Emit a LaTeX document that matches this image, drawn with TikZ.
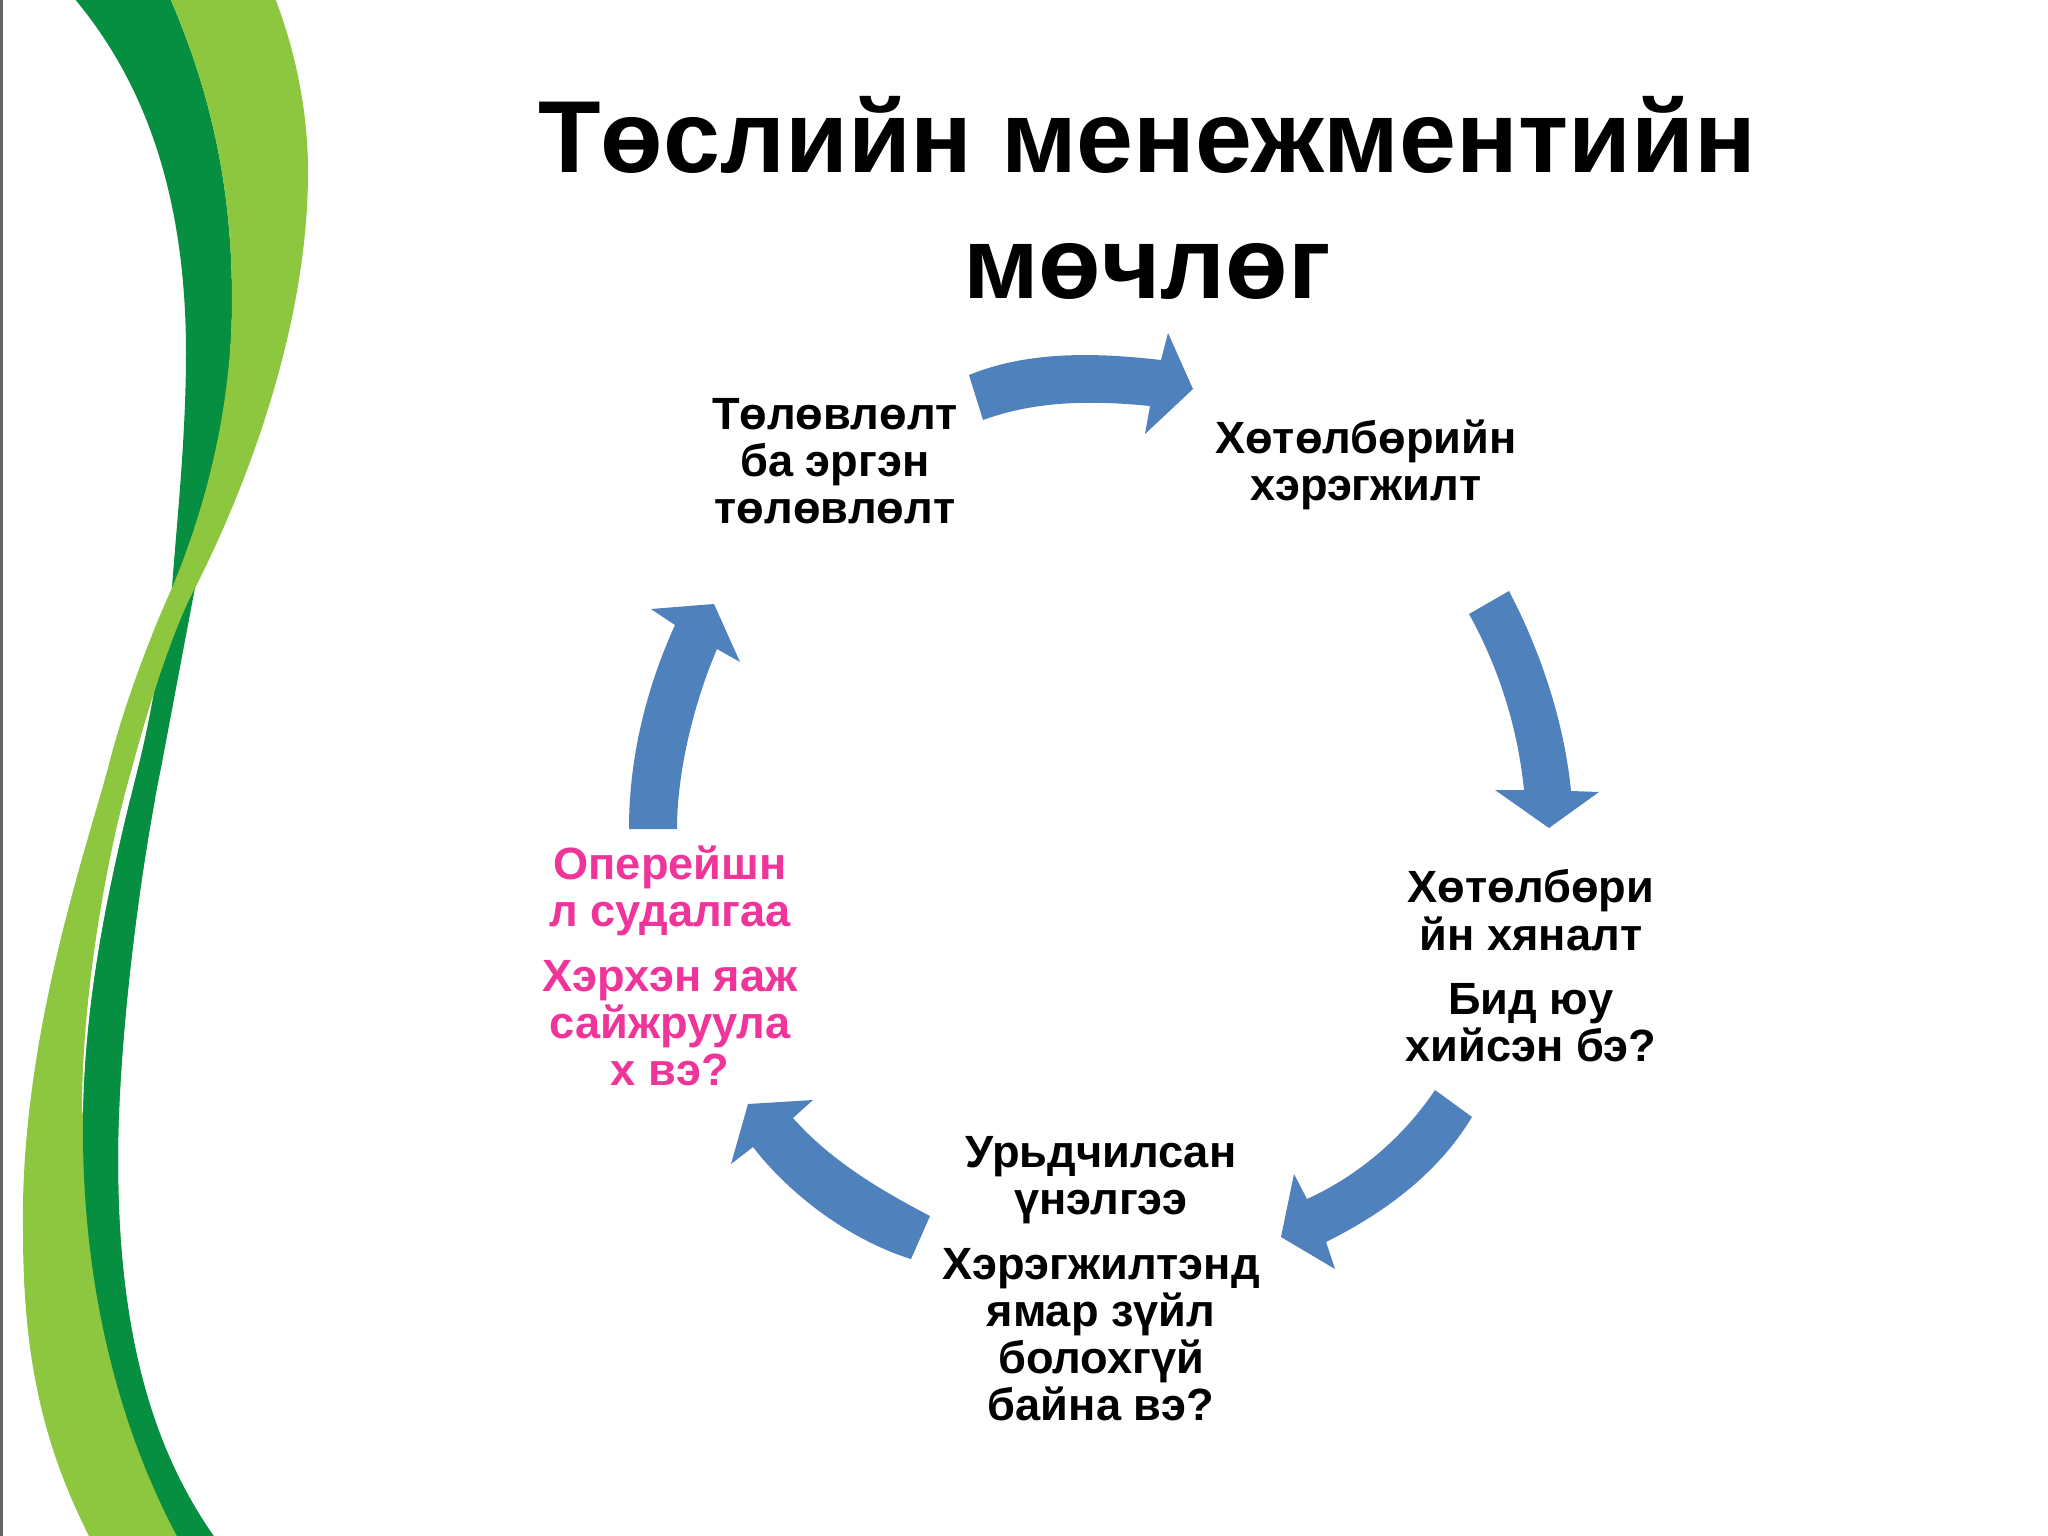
\documentclass[tikz,border=0pt]{standalone}
\usepackage{fontspec}
\setmainfont{Liberation Sans}
\usepackage{xcolor}
\definecolor{arrowblue}{HTML}{4F81BD}
\definecolor{bandlight}{HTML}{8DC63F}
\definecolor{banddark}{HTML}{078F41}
\definecolor{opink}{HTML}{F0359A}
\newcommand{\darkband}{(74,-2) .. controls (130,65) and (186,170) .. (186,353) .. controls (186,440) and (176,530) .. (172,588) .. controls (160,650) and (155,700) .. (138,768) .. controls (110,880) and (83,1000) .. (83,1131) .. controls (83,1290) and (120,1430) .. (178,1538) -- (215,1538) .. controls (160,1460) and (118,1350) .. (118,1160) .. controls (118,1040) and (140,870) .. (161,768) .. controls (172,710) and (185,640) .. (195,588) .. controls (215,490) and (232,390) .. (232,300) .. controls (232,190) and (212,95) .. (170,-2) -- cycle}
\begin{document}
\begin{tikzpicture}[x=0.01cm, y=-0.01cm,
	every node/.style={font=\fontsize{12.85}{13.4}\selectfont\bfseries, align=center},
	block/.style={fill=arrowblue}]
		\clip (0,0) rectangle (2048,1536);
		\fill[white] (0,0) rectangle (2048,1536);
		\fill[black!60] (0,0) rectangle (3,1536);
		
		\fill[banddark] \darkband;
		\fill[bandlight] (170,-2) .. controls (212,95) and (232,190) .. (232,300) .. controls (232,390) and (213,490) .. (172,588) .. controls (155,625) and (125,700) .. (108,768) .. controls (86,850) and (20,1040) .. (23,1230) .. controls (23,1350) and (40,1440) .. (90,1538) -- (178,1538) -- (110,1300) -- (90,1150) -- (82,1110) .. controls (82,1000) and (105,860) .. (132,768) .. controls (150,700) and (175,625) .. (195,588) .. controls (235,510) and (308,340) .. (308,172) .. controls (308,110) and (295,50) .. (275,-2) -- cycle;
		\begin{scope}
			\clip (0,800) rectangle (400,1536);
			\fill[banddark] \darkband;
		\end{scope}
		
		\node[font=\fontsize{29.1}{36}\selectfont\bfseries] (title) at (1147,198) {Төслийн менежментийн\\мөчлөг};
		
		\node (plan) at (835,461) {Төлөвлөлт\\ба эргэн\\төлөвлөлт};
		\node (impl) at (1366,465) {Хөтөлбөрийн\\хэрэгжилт};
		\node (ctrl) at (1531,966) {Хөтөлбөри\\йн хяналт\\[5pt]Бид юу\\хийсэн бэ?};
		\node (eval) at (1101,1279) {Урьдчилсан\\үнэлгээ\\[5pt]Хэрэгжилтэнд\\ямар зүйл\\болохгүй\\байна вэ?};
		\node[text=opink] (oper) at (670,966) {Оперейшн\\л судалгаа\\[5pt]Хэрхэн яаж\\сайжруула\\х вэ?};
		
		\fill[block] (969,375) .. controls (1030,350) and (1100,353) .. (1161,360) -- (1168,333) -- (1193,389) -- (1145,434) -- (1150,406) .. controls (1090,400) and (1035,401) .. (983,420) -- cycle;
		\fill[block] (1509,591) .. controls (1545,660) and (1565,730) .. (1571,791) -- (1599,792) -- (1549,828) -- (1495,790) -- (1524,790) .. controls (1518,730) and (1500,670) .. (1469,614) -- cycle;
		\fill[block] (1472,1117) .. controls (1440,1170) and (1390,1210) .. (1326,1242) -- (1335,1269) -- (1281,1237) -- (1294,1174) -- (1307,1199) .. controls (1360,1175) and (1405,1135) .. (1435,1090) -- cycle;
		\fill[block] (930,1216) .. controls (880,1190) and (830,1160) .. (793,1118) -- (813,1100) -- (748,1104) -- (731,1164) -- (753,1147) .. controls (790,1195) and (850,1240) .. (911,1259) -- cycle;
		\fill[block] (629,829) .. controls (629,750) and (650,680) .. (675,625) -- (651,609) -- (714,604) -- (740,662) -- (717,649) .. controls (695,700) and (677,770) .. (677,829) -- cycle;
	\end{tikzpicture}
\end{document}
